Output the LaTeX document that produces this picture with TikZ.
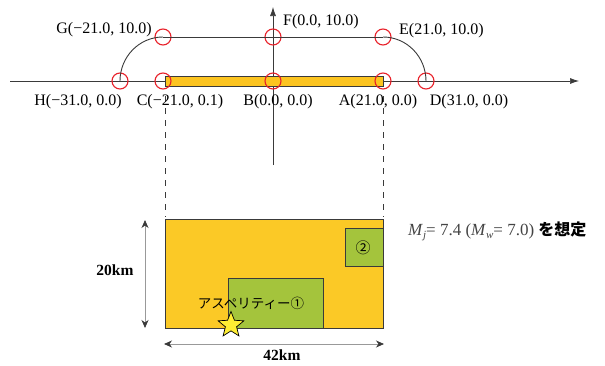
\documentclass[tikz,border=0pt]{standalone}
\usepackage{fontspec}
\setmainfont{Liberation Serif}
\newfontfamily\jp{Noto Sans CJK JP}
\usetikzlibrary{arrows.meta,shapes.geometric}
\definecolor{faultc}{HTML}{FBC926}
\definecolor{barc}{HTML}{FCC420}
\definecolor{aspc}{HTML}{A4C43C}
\definecolor{starc}{HTML}{FFEE33}
\definecolor{ringc}{HTML}{E8212A}
\definecolor{linec}{HTML}{3A3A3A}
\definecolor{mtext}{HTML}{444444}
\begin{document}
\begin{tikzpicture}[x=1pt,y=-1pt,
  ring/.style={circle,draw=ringc,line width=1.1pt,minimum size=16pt,inner sep=0pt},
  axisline/.style={draw=linec,line width=0.7pt,-{Latex[length=9pt,width=6pt]}},
  curveline/.style={draw=linec,line width=0.9pt},
  lbl/.style={inner sep=0pt,font=\fontsize{16}{19}\selectfont},
  boxc/.style={draw=linec,line width=0.9pt,inner sep=0pt},
  guide/.style={draw=linec,line width=0.7pt,dash pattern=on 6pt off 6pt},
  dimarrow/.style={draw=gray!80,line width=0.8pt,{Stealth[length=8pt,width=7pt,inset=2.5pt,color=linec]}-{Stealth[length=8pt,width=7pt,inset=2.5pt,color=linec]}},
  kmlbl/.style={inner sep=0pt,font=\fontsize{15.5}{18}\selectfont\bfseries}]
\useasboundingbox (0,0) rectangle (605,365);

% axes
\coordinate (xl) at (10,81);
\coordinate (xr) at (579,81);
\coordinate (yb) at (273,165);
\coordinate (yt) at (273,7);
\draw[axisline] (xl) -- (xr);
\draw[axisline] (yb) -- (yt);

% guide lines
\coordinate (gl1) at (165,96);
\coordinate (gl2) at (165,217);
\coordinate (gr1) at (383,96);
\coordinate (gr2) at (383,217);
\draw[guide] (gl1) -- (gl2);
\draw[guide] (gr1) -- (gr2);

% fault trace bar
\node[boxc,fill=barc,minimum width=218pt,minimum height=10pt] (bar) at (274,81) {};

% ring markers
\node[ring] (cH) at (120,81) {};
\node[ring] (cC) at (163,81) {};
\node[ring] (cB) at (273,81) {};
\node[ring] (cA) at (383,81) {};
\node[ring] (cD) at (426,81) {};
\node[ring] (cG) at (163,37) {};
\node[ring] (cF) at (273,37) {};
\node[ring] (cE) at (383,37) {};

% top line and arcs
\draw[curveline] (cG.center) -- (cE.center);
\draw[curveline] (cG.center) .. controls +(-24,0) and +(0,-24) .. (cH.center);
\draw[curveline] (cE.center) .. controls +(24,0) and +(0,-24) .. (cD.center);

% point labels
\node[lbl] (tG) at (104,30) {G(−21.0, 10.0)};
\node[lbl,anchor=west] (tF) at (283,22) {F(0.0, 10.0)};
\node[lbl,anchor=west] (tE) at (399,31) {E(21.0, 10.0)};
\node[lbl] (tH) at (78,102) {H(−31.0, 0.0)};
\node[lbl] (tC) at (180,102) {C(−21.0, 0.1)};
\node[lbl] (tB) at (278,102) {B(0.0, 0.0)};
\node[lbl] (tA) at (378,102) {A(21.0, 0.0)};
\node[lbl] (tD) at (469,102) {D(31.0, 0.0)};

% fault plane
\node[boxc,fill=faultc,minimum width=218pt,minimum height=109pt] (fault) at (274,273.5) {};
\node[boxc,fill=aspc,minimum width=38pt,minimum height=38pt] (asp2) at (364,247) {};
\node[boxc,fill=aspc,minimum width=95pt,minimum height=50pt] (asp1) at (275.5,303) {};
\node[inner sep=0pt,font=\jp\fontsize{15}{17}\selectfont] (n2) at (363,248) {②};
\node[inner sep=0pt,font=\jp\fontsize{13.5}{16}\selectfont] (n1) at (251,303) {アスペリティー①};
\node[star,star points=5,star point ratio=2.3,minimum size=27pt,inner sep=0pt,fill=starc,draw=black,line width=0.7pt] (hypo) at (231,325) {};

% dimensions
\coordinate (v1) at (145,220);
\coordinate (v2) at (145,328);
\draw[dimarrow] (v1) -- (v2);
\node[kmlbl] (km20) at (115,270) {20km};
\coordinate (h1) at (164,344);
\coordinate (h2) at (384,344);
\draw[dimarrow] (h1) -- (h2);
\node[kmlbl] (km42) at (282,355) {42km};

% magnitude note
\node[inner sep=0pt,anchor=west,font=\fontsize{17}{20}\selectfont] (mag) at (408,231)
  {\textcolor{mtext}{\textit{M}\raisebox{-3pt}{\fontsize{11}{12}\selectfont\textit{j}}= 7.4 (\textit{M}\raisebox{-3pt}{\fontsize{11}{12}\selectfont\textit{w}}= 7.0)} {\jp\bfseries\fontsize{16}{19}\selectfont を想定}};
\end{tikzpicture}
\end{document}
